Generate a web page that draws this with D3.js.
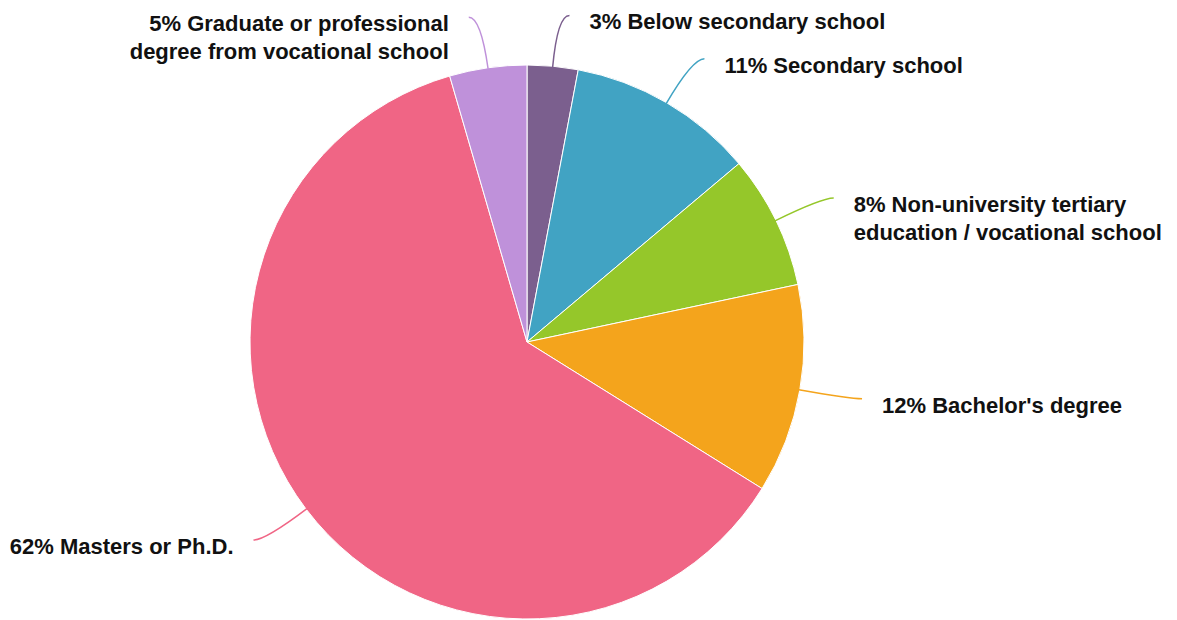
<!DOCTYPE html>
<html>
<head>
<meta charset="utf-8">
<script src="https://cdn.jsdelivr.net/npm/d3@7"></script>
<style>
  body { margin: 0; background: #fff; }
  text { font-family: "Liberation Sans", Arial, sans-serif; font-weight: bold; }
</style>
</head>
<body>
<svg id="pie"></svg>
<script>
// Education levels, clockwise from 12 o'clock
var categories = [
    ["Below secondary school"],
    ["Secondary school"],
    ["Non-university tertiary", "education / vocational school"],
    ["Bachelor's degree"],
    ["Masters or Ph.D."],
    ["Graduate or professional", "degree from vocational school"]
];
var shares = [2.96, 10.9, 7.8, 12.2, 61.6, 4.5];
var percentLabels = ["3%", "11%", "8%", "12%", "62%", "5%"];
var colors = ["#7b5f8e", "#41a3c3", "#95c72a", "#f4a41c", "#f06585", "#bf91da"];

var dimensions = {
    width: 1177,
    height: 620,
    cx: 527,
    cy: 342,
    radius: 277
};

var data = shares.map((v, i) => ({
    name: categories[i],
    value: v,
    pct: percentLabels[i],
    color: colors[i]
}));

var svg = d3.select("#pie")
    .attr("width", dimensions.width)
    .attr("height", dimensions.height);

var g = svg.append("g")
    .attr("transform", `translate(${dimensions.cx}, ${dimensions.cy})`);

var pie = d3.pie().value(d => d.value).sort(null);
var arc = d3.arc().innerRadius(0).outerRadius(dimensions.radius);
var arcs = pie(data);

g.selectAll("path.slice")
    .data(arcs)
    .enter()
    .append("path")
    .attr("class", "slice")
    .attr("d", arc)
    .attr("fill", d => d.data.color)
    .attr("stroke", "white")
    .attr("stroke-width", 1);

// point at radius r along the slice's middle angle
function polar(d, r) {
    var a = (d.startAngle + d.endAngle) / 2;
    return [r * Math.sin(a), -r * Math.cos(a)];
}

function side(d) {
    var a = (d.startAngle + d.endAngle) / 2;
    return a < Math.PI ? 1 : -1;
}

// curved leader lines
g.selectAll("path.leader")
    .data(arcs)
    .enter()
    .append("path")
    .attr("class", "leader")
    .attr("fill", "none")
    .attr("stroke", d => d.data.color)
    .attr("stroke-width", 1.5)
    .attr("d", d => {
        var p0 = polar(d, dimensions.radius - 1);
        var c = polar(d, dimensions.radius + 51);
        var p1 = [c[0] + side(d) * 12, c[1]];
        return `M${p0[0]},${p0[1]} Q${c[0]},${c[1]} ${p1[0]},${p1[1]}`;
    });

// labels
var labels = g.selectAll("text.label")
    .data(arcs)
    .enter()
    .append("text")
    .attr("class", "label")
    .attr("font-size", 22)
    .attr("fill", "#111")
    .attr("text-anchor", d => side(d) > 0 ? "start" : "end")
    .attr("transform", d => {
        var c = polar(d, dimensions.radius + 51);
        return `translate(${c[0] + side(d) * 32}, ${c[1] + 14})`;
    });

labels.each(function(d) {
    var t = d3.select(this);
    d.data.name.forEach((line, i) => {
        t.append("tspan")
            .attr("x", 0)
            .attr("dy", i === 0 ? 0 : 28)
            .text(i === 0 ? d.data.pct + " " + line : line);
    });
});
</script>
</body>
</html>
